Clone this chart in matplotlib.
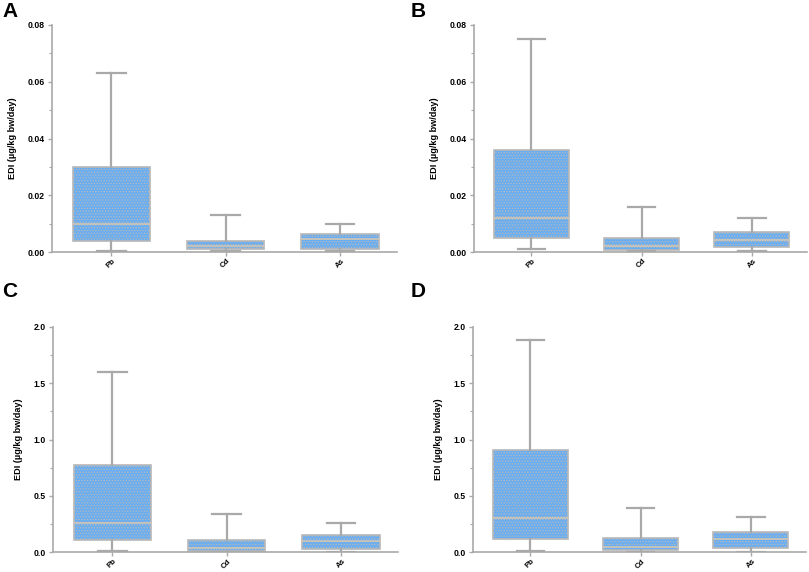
import numpy as np
import matplotlib
matplotlib.use('Agg')
import matplotlib.pyplot as plt
from matplotlib.ticker import MultipleLocator

plt.rcParams['font.family'] = ['Liberation Sans', 'DejaVu Sans']
plt.rcParams['font.weight'] = 'bold'
plt.rcParams['hatch.linewidth'] = 0.6

metals = ['Pb', 'Cd', 'As']
panels = ['A', 'B', 'C', 'D']

# whisker low, q1, median, q3, whisker high per metal
lo_A = [0.0005, 0.0004, 0.0003]
q1_A = [0.004, 0.001, 0.001]
med_A = [0.010, 0.0022, 0.0045]
q3_A = [0.030, 0.004, 0.0062]
hi_A = [0.063, 0.013, 0.010]

lo_B = [0.001, 0.0003, 0.0003]
q1_B = [0.005, 0.0007, 0.0019]
med_B = [0.012, 0.0022, 0.0044]
q3_B = [0.036, 0.0048, 0.0069]
hi_B = [0.075, 0.016, 0.012]

lo_C = [0.012, 0.005, 0.006]
q1_C = [0.11, 0.015, 0.032]
med_C = [0.26, 0.041, 0.10]
q3_C = [0.77, 0.11, 0.157]
hi_C = [1.60, 0.337, 0.263]

lo_D = [0.012, 0.005, 0.006]
q1_D = [0.118, 0.02, 0.035]
med_D = [0.307, 0.05, 0.12]
q3_D = [0.907, 0.13, 0.183]
hi_D = [1.885, 0.393, 0.31]

data = {
    'A': (lo_A, q1_A, med_A, q3_A, hi_A),
    'B': (lo_B, q1_B, med_B, q3_B, hi_B),
    'C': (lo_C, q1_C, med_C, q3_C, hi_C),
    'D': (lo_D, q1_D, med_D, q3_D, hi_D),
}

grey = '#a9a9a9'
fig = plt.figure(figsize=(8.09, 5.72), dpi=100)

pos = {
    'A': [0.0643, 0.5594, 0.4264, 0.3969],
    'B': [0.5859, 0.5594, 0.4116, 0.3969],
    'C': [0.0655, 0.0344, 0.4264, 0.3944],
    'D': [0.5847, 0.0344, 0.4116, 0.3944],
}
letter_xy = {'A': (0.003, 0.997), 'B': (0.508, 0.997),
             'C': (0.003, 0.507), 'D': (0.508, 0.507)}

for p in panels:
    ax = fig.add_axes(pos[p])
    lo, q1, med, q3, hi = data[p]
    stats = []
    for i, m in enumerate(metals):
        stats.append(dict(label=m, whislo=lo[i], q1=q1[i], med=med[i],
                          q3=q3[i], whishi=hi[i]))
    ax.bxp(stats, positions=[0, 1, 2], widths=0.68, capwidths=0.25,
           showfliers=False, patch_artist=True,
           boxprops=dict(facecolor='#6aaef2', edgecolor='#b8b8b8',
                         linewidth=1.2, hatch='......'),
           whiskerprops=dict(color=grey, linewidth=1.6),
           capprops=dict(color=grey, linewidth=1.6),
           medianprops=dict(color='#cfc6b4', linewidth=1.2))

    ax.set_xlim(-0.52, 2.5)
    if p in ('A', 'B'):
        ax.set_ylim(0, 0.08)
        ax.yaxis.set_major_locator(MultipleLocator(0.02))
        ax.yaxis.set_minor_locator(MultipleLocator(0.01))
        ax.yaxis.set_major_formatter(lambda v, _: f'{v:.2f}')
    else:
        ax.set_ylim(0, 2.0)
        ax.yaxis.set_major_locator(MultipleLocator(0.5))
        ax.yaxis.set_minor_locator(MultipleLocator(0.25))
        ax.yaxis.set_major_formatter(lambda v, _: f'{v:.1f}')

    for s in ('top', 'right'):
        ax.spines[s].set_visible(False)
    for s in ('left', 'bottom'):
        ax.spines[s].set_color(grey)
        ax.spines[s].set_linewidth(1.2)
    ax.tick_params(axis='both', which='major', length=3, width=1, color=grey,
                   labelsize=6.2, pad=2)
    ax.tick_params(axis='y', which='minor', length=2, width=0.8, color=grey)
    ax.tick_params(axis='x', length=3, pad=1, labelsize=5.6)
    ax.set_xticks([0, 1, 2])
    ax.set_xticklabels(metals, rotation=45, ha='center', fontweight='bold')
    for t in ax.get_yticklabels():
        t.set_fontweight('bold')
    ax.set_ylabel('EDI (µg/kg bw/day)', fontsize=6.6, fontweight='bold', labelpad=8)
    fig.text(letter_xy[p][0], letter_xy[p][1], p, fontsize=15, fontweight='bold',
             ha='left', va='top')

fig.savefig('out.png', dpi=100)
